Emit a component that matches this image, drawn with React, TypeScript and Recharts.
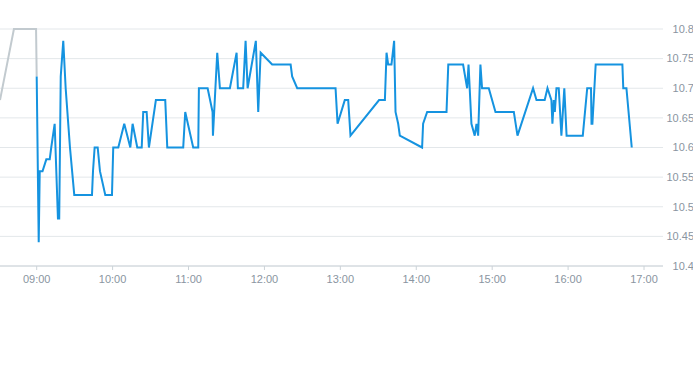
import React from "react";
import { ComposedChart, Line, XAxis, YAxis, CartesianGrid } from "recharts";

// time in minutes since midnight
const preTimes = [511, 522, 539.5, 540];
const preValues = [10.68, 10.8, 10.8, 10.72];

const times = [
  540, 541.6, 542.4, 544.6, 547.6, 550.3, 551.5, 554.2, 556.8, 557.8,
  559, 561, 562.9, 566.3, 569.7, 583.7, 584.5, 585.8, 588.2, 590,
  594.2, 599.5, 600.5, 604.5, 609.2, 614, 615.8, 619.5, 623, 624.2,
  626.9, 628.7, 634.2, 641.6, 643.2, 655.8, 657.4, 663.7, 667.7, 668.2,
  675.1, 679, 679.3, 682.7, 684.8, 692.7, 698, 699, 703.2, 705.1,
  706.7, 713.2, 715.1, 717, 726.1, 740.7, 741.9, 745.9, 776.2, 777.8,
  783.5, 786.2, 788, 810.6, 815.2, 816.5, 817.8, 820.4, 822.5, 823.6,
  825.7, 827, 844.6, 845.4, 848.6, 863.9, 865.3, 877, 880.2, 881.3,
  883.6, 886.2, 887.6, 888.9, 890.7, 892, 897.3, 902.6, 917.1, 920,
  932.3, 935, 941.5, 943.7, 946.8, 947.6, 948.7, 949.5, 950.8, 952.6,
  954.7, 957, 958.8, 971.6, 975.1, 978.1, 978.5, 979.2, 981.8, 1002.9,
  1003.6, 1006.1, 1010.3,
];
const values = [
  10.72, 10.44, 10.56, 10.56, 10.58, 10.58, 10.6, 10.64, 10.48, 10.48,
  10.72, 10.78, 10.7, 10.6, 10.52, 10.52, 10.56, 10.6, 10.6, 10.56,
  10.52, 10.52, 10.6, 10.6, 10.64, 10.6, 10.64, 10.6, 10.6, 10.66,
  10.66, 10.6, 10.68, 10.68, 10.6, 10.6, 10.66, 10.6, 10.6, 10.7,
  10.7, 10.66, 10.62, 10.76, 10.7, 10.7, 10.76, 10.7, 10.7, 10.78,
  10.7, 10.78, 10.66, 10.76, 10.74, 10.74, 10.72, 10.7, 10.7, 10.64,
  10.68, 10.68, 10.62, 10.68, 10.68, 10.76, 10.74, 10.74, 10.78, 10.66,
  10.64, 10.62, 10.6, 10.64, 10.66, 10.66, 10.74, 10.74, 10.7, 10.74,
  10.64, 10.62, 10.64, 10.62, 10.74, 10.7, 10.7, 10.66, 10.66, 10.62,
  10.7, 10.68, 10.68, 10.7, 10.68, 10.64, 10.68, 10.66, 10.7, 10.7,
  10.62, 10.7, 10.62, 10.62, 10.7, 10.7, 10.64, 10.64, 10.74, 10.74,
  10.7, 10.7, 10.6,
];

const xTicks = [540, 600, 660, 720, 780, 840, 900, 960, 1020];
const yTicks = [10.4, 10.45, 10.5, 10.55, 10.6, 10.65, 10.7, 10.75, 10.8];

const preData = preTimes.map((t, i) => ({ t, pre: preValues[i] }));
const mainData = times.map((t, i) => ({ t, price: values[i] }));

const fmtTime = (m: number) => {
  const h = Math.floor(m / 60);
  const mm = Math.round(m % 60);
  return `${String(h).padStart(2, "0")}:${String(mm).padStart(2, "0")}`;
};

const FONT = "'Liberation Sans', Arial, sans-serif";

const YTick = (props: any) => {
  const { y, payload } = props;
  return (
    <text
      x={694}
      y={y}
      dy="0.35em"
      textAnchor="end"
      fill="#8a95a1"
      fontSize={11}
      fontFamily={FONT}
    >
      {String(Number(payload.value.toFixed(2)))}
    </text>
  );
};

export default function App() {
  return (
    <div style={{ width: 693, height: 365 }}>
      <style>{`html,body{margin:0;padding:0;}`}</style>
      <ComposedChart
        width={693}
        height={365}
        margin={{ top: 29, right: 0, bottom: 69, left: 0 }}
      >
        <CartesianGrid vertical={false} stroke="#e3e7ea" strokeWidth={1} />
        <XAxis
          dataKey="t"
          type="number"
          domain={[511, 1035]}
          ticks={xTicks}
          tickFormatter={fmtTime}
          allowDataOverflow
          height={30}
          stroke="#ccd3d8"
          tickSize={4}
          tickMargin={5}
          tick={{ fill: "#8a95a1", fontSize: 11, fontFamily: FONT }}
        />
        <YAxis
          yAxisId={0}
          orientation="right"
          type="number"
          domain={[10.4, 10.8]}
          ticks={yTicks}
          width={30}
          axisLine={false}
          tickLine={false}
          tick={<YTick />}
        />
        <Line
          data={preData}
          dataKey="pre"
          type="linear"
          stroke="#c2cacf"
          strokeWidth={2}
          dot={false}
          isAnimationActive={false}
        />
        <Line
          data={mainData}
          dataKey="price"
          type="linear"
          stroke="#1593e0"
          strokeWidth={2}
          dot={false}
          isAnimationActive={false}
        />
      </ComposedChart>
    </div>
  );
}
